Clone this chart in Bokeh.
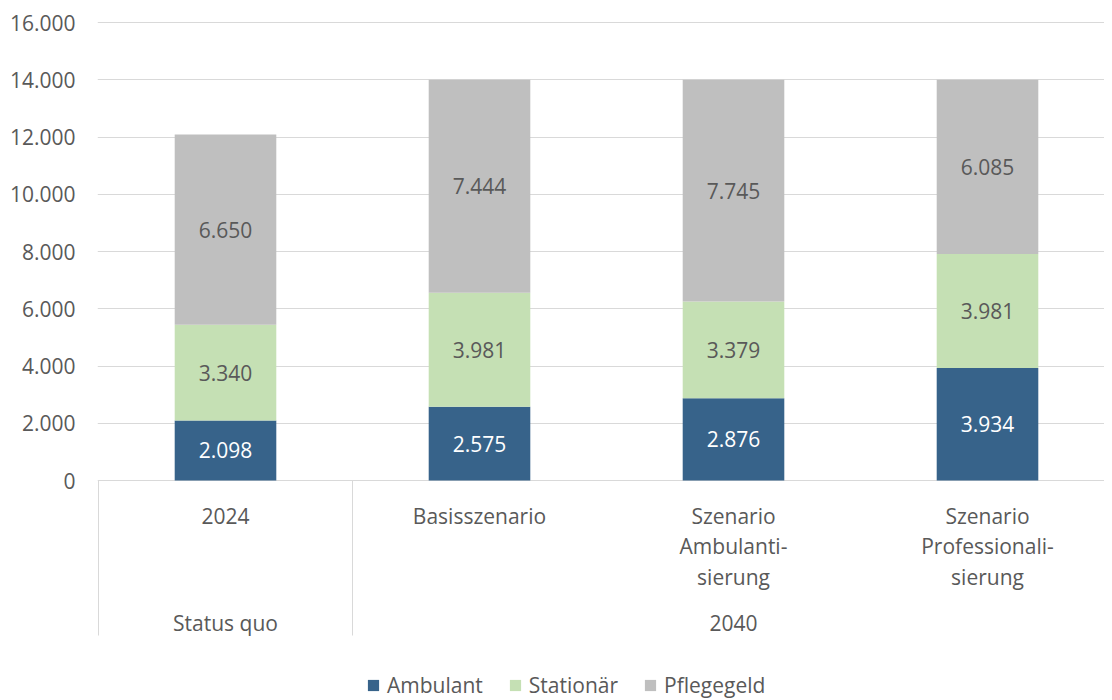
from bokeh.plotting import figure
from bokeh.models import Range1d, FixedTicker, Legend, LegendItem, ColumnDataSource
from bokeh.core.properties import value
from bokeh.embed import file_html
from bokeh.resources import INLINE

# ---------------- data ----------------
categories = ["2024", "Basisszenario", "Szenario\nAmbulanti-\nsierung", "Szenario\nProfessionali-\nsierung"]
groups = ["Status quo", "2040"]
group_sizes = [1, 3]
ambulant = [2098, 2575, 2876, 3934]
stationaer = [3340, 3981, 3379, 3981]
pflegegeld = [6650, 7444, 7745, 6085]
series_names = ["Ambulant", "Stationär", "Pflegegeld"]
y_ticks = [0, 2000, 4000, 6000, 8000, 10000, 12000, 14000, 16000]

# ---------------- style ----------------
FONT = "Open Sans"
FS = "21px"
TXT = "#595959"
GRID = "#d9d9d9"
colors = ["#37638a", "#c5e0b4", "#bfbfbf"]
label_colors = ["#ffffff", TXT, TXT]

W, H = 1104, 700
LEFT, TOP = 97, 12
CAT_PX = 254.0            # pixels per category
PX_PER_UNIT = 458.0 / 16000.0
ZERO_PX = 480.0           # figure y of value 0
LINE_PX = 30.5

x0 = -1.0 / CAT_PX
x1 = x0 + (W - LEFT) / CAT_PX
y_hi = (ZERO_PX - TOP) / PX_PER_UNIT
y_lo = -(H - ZERO_PX) / PX_PER_UNIT


def ypx(fig_y):
    return (ZERO_PX - fig_y) / PX_PER_UNIT


def fmt(v):
    return f"{v:,}".replace(",", ".")


p = figure(width=W, height=H, x_range=Range1d(x0, x1), y_range=Range1d(y_lo, y_hi),
           output_backend="svg", toolbar_location=None,
           min_border_left=LEFT, min_border_right=0, min_border_top=TOP, min_border_bottom=0)
p.outline_line_color = None
p.xaxis.visible = False
p.xgrid.visible = False

yax = p.yaxis[0]
yax.ticker = FixedTicker(ticks=y_ticks)
yax.major_label_overrides = {t: fmt(t) for t in y_ticks}
yax.axis_line_color = None
yax.major_tick_line_color = None
yax.minor_tick_line_color = None
yax.major_tick_out = 0
yax.major_tick_in = 0
yax.major_label_standoff = 22
yax.major_label_text_font = FONT
yax.major_label_text_font_size = FS
yax.major_label_text_color = TXT
p.ygrid.ticker = FixedTicker(ticks=y_ticks)
p.ygrid.grid_line_color = GRID
p.ygrid.grid_line_width = 1

xs = [i + 0.5 for i in range(len(categories))]
src = ColumnDataSource(dict(x=xs, Ambulant=ambulant, Stationaer=stationaer, Pflegegeld=pflegegeld))
renderers = p.vbar_stack(["Ambulant", "Stationaer", "Pflegegeld"], x="x", width=0.4,
                         color=colors, line_color=None, source=src)

# data labels
series = [ambulant, stationaer, pflegegeld]
bottom = [0] * len(categories)
for s, col in zip(series, label_colors):
    mids = [b + v / 2 for b, v in zip(bottom, s)]
    p.text(x=xs, y=mids, text=[fmt(v) for v in s], text_align="center", text_baseline="middle",
           text_font=value(FONT), text_font_size=FS, text_color=col)
    bottom = [b + v for b, v in zip(bottom, s)]

# category labels (one text glyph per line)
lx, ly, lt = [], [], []
for x, c in zip(xs, categories):
    for i, line in enumerate(c.split("\n")):
        lx.append(x)
        ly.append(ypx(515 + i * LINE_PX))
        lt.append(line)
p.text(x=lx, y=ly, text=lt, text_align="center", text_baseline="middle",
       text_font=value(FONT), text_font_size=FS, text_color=TXT)

# group labels and separators
bounds = [0]
for g in group_sizes:
    bounds.append(bounds[-1] + g)
gx = [(a + b) / 2 for a, b in zip(bounds[:-1], bounds[1:])]
p.text(x=gx, y=[ypx(622)] * len(gx), text=groups, text_align="center", text_baseline="middle",
       text_font=value(FONT), text_font_size=FS, text_color=TXT)
p.segment(x0=bounds, y0=[0] * len(bounds), x1=bounds, y1=[ypx(635)] * len(bounds),
          line_color=GRID, line_width=1)

legend = Legend(items=[LegendItem(label=n, renderers=[r]) for n, r in zip(series_names, renderers)],
                orientation="horizontal", location=(269, 1),
                glyph_width=14, glyph_height=14, label_standoff=7, spacing=25,
                label_text_font=FONT, label_text_font_size=FS, label_text_color=TXT,
                border_line_color=None, background_fill_alpha=0, padding=0, margin=0)
p.add_layout(legend, "center")

open("out.html", "w").write(file_html(p, INLINE))
